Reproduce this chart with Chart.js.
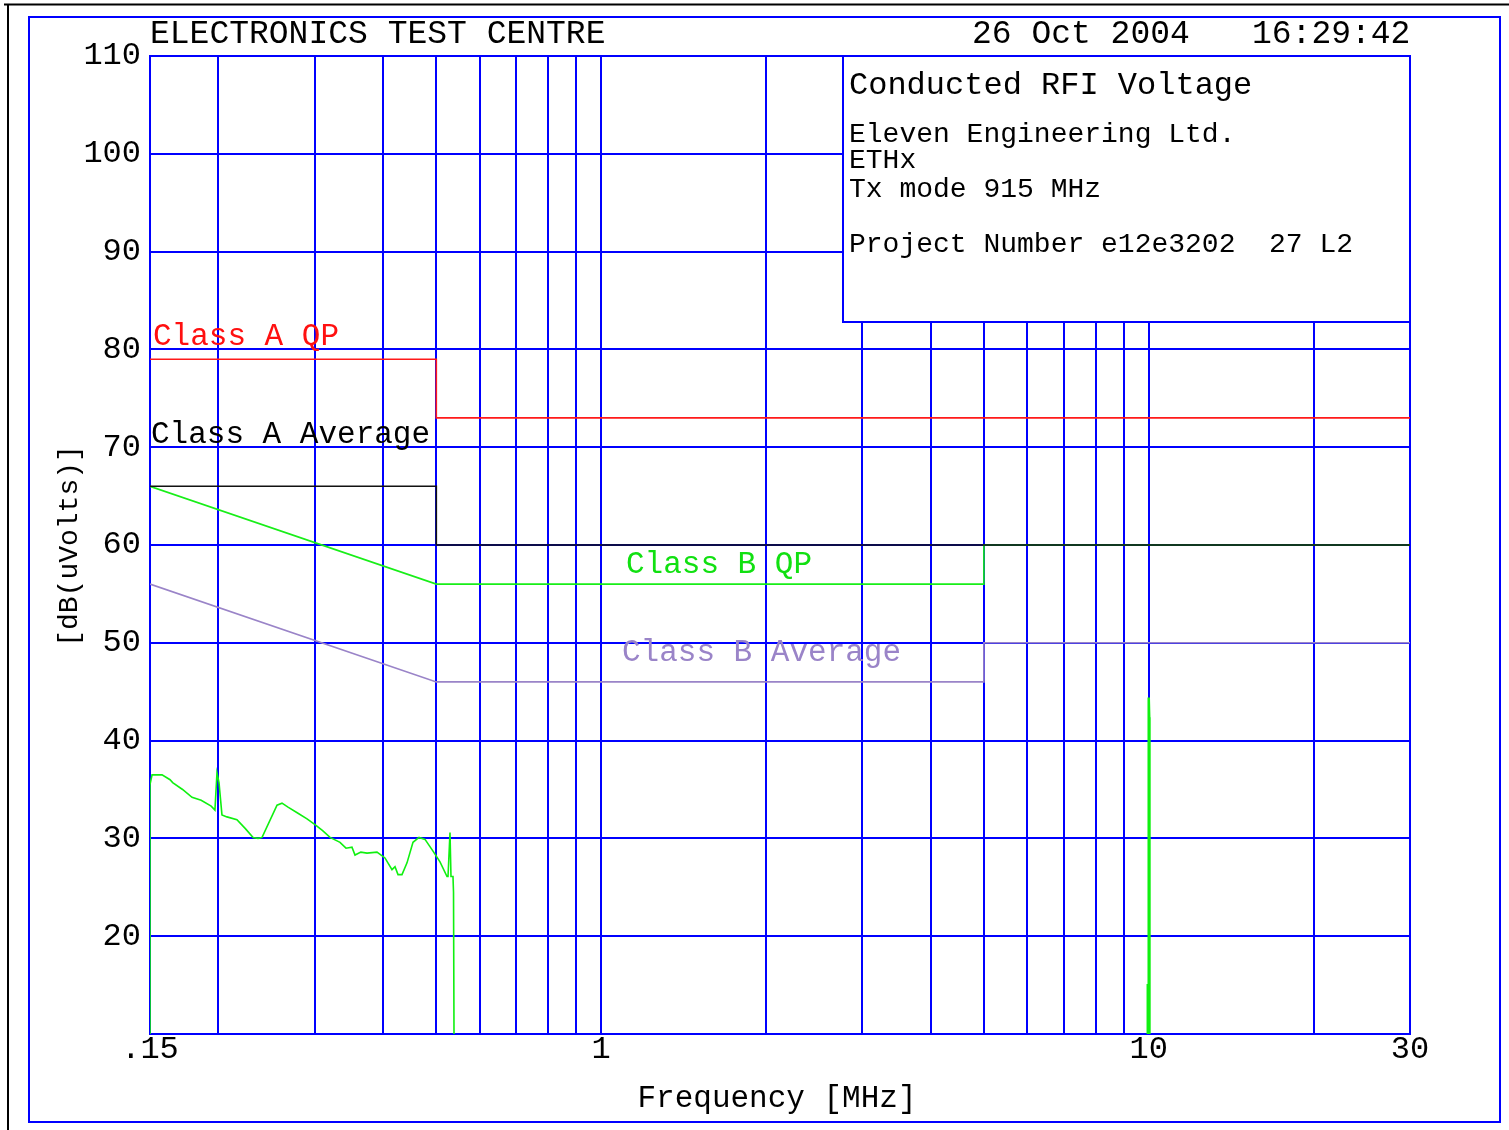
<!DOCTYPE html>
<html>
<head>
<meta charset="utf-8">
<title>Conducted RFI Voltage</title>
<script src="https://cdn.jsdelivr.net/npm/chart.js@4/dist/chart.umd.min.js"></script>
<style>
  html, body { margin: 0; padding: 0; background: #ffffff; }
  canvas { display: block; }
</style>
</head>
<body>
<canvas id="rfi" width="1509" height="1130"></canvas>
<script>
// Frequency grid (MHz) and the labelled ticks
const gridFreqs = [0.15, 0.2, 0.3, 0.4, 0.5, 0.6, 0.7, 0.8, 0.9, 1, 2, 3, 4, 5, 6, 7, 8, 9, 10, 20, 30];
const freqTickLabels = { 0.15: '.15', 1: '1', 10: '10', 30: '30' };
const levelMin = 10;
const levelMax = 110;
const levelStep = 10;

// Limit lines, dB(uV)
const classAQpFreq = [0.15, 0.5, 0.5, 30];
const classAQp     = [79, 79, 73, 73];
const classAAvgFreq = [0.15, 0.5, 0.5, 30];
const classAAvg     = [66, 66, 60, 60];
const classBQpFreq = [0.15, 0.5, 5, 5, 30];
const classBQp     = [66, 56, 56, 60, 60];
const classBAvgFreq = [0.15, 0.5, 5, 5, 30];
const classBAvg     = [56, 46, 46, 50, 50];

// Measured scan, low band (MHz, dB(uV))
const scanFreq = [0.15, 0.15, 0.1513, 0.1578, 0.1632, 0.1650, 0.1720, 0.1790, 0.1860, 0.1940, 0.1971, 0.1988, 0.2005,
  0.2030, 0.2073, 0.2162, 0.2240, 0.2314, 0.2363, 0.2403, 0.2559, 0.2613, 0.2680, 0.2790, 0.2903, 0.3002, 0.3100, 0.3198,
  0.3335, 0.3420, 0.3507, 0.3552, 0.3640, 0.3736, 0.3896, 0.4029, 0.4150, 0.4203, 0.4256, 0.4328, 0.4420, 0.4533,
  0.4649, 0.4768, 0.4931, 0.5078, 0.5230, 0.5252, 0.5296, 0.5318, 0.5363, 0.5375, 0.5386];
const scanLevel = [10, 35.5, 36.5, 36.5, 36.0, 35.7, 35.0, 34.2, 33.9, 33.3, 32.9, 36.7, 35.7,
  32.4, 32.2, 31.9, 31.0, 30.1, 30.0, 30.1, 33.4, 33.6, 33.2, 32.6, 32.0, 31.4, 30.8, 30.1,
  29.6, 29.0, 29.1, 28.3, 28.6, 28.5, 28.6, 28.0, 26.8, 27.1, 26.3, 26.3, 27.5, 29.6,
  30.1, 29.9, 28.7, 27.6, 26.1, 26.1, 30.6, 26.1, 26.1, 24.5, 10];

// Narrow emission near 10 MHz
const spikeFreq  = [9.96, 9.96, 9.98, 10.0, 10.02, 10.03];
const spikeLevel = [10, 15.1, 10, 44.4, 42.4, 10];

const FONT = '"Liberation Mono", "DejaVu Sans Mono", monospace';
const BLUE = '#0000ff';
const pts = (xs, ys) => xs.map((x, i) => ({ x: x, y: ys[i] }));

const lineSet = (label, xs, ys, color, width) => ({
  label: label,
  data: pts(xs, ys),
  borderColor: color,
  backgroundColor: color,
  borderWidth: width,
  pointRadius: 0,
  tension: 0,
  fill: false
});

// Page frame, header box and text annotations
const sheet = {
  id: 'sheet',
  beforeDraw(chart) {
    const ctx = chart.ctx;
    ctx.save();
    ctx.fillStyle = '#ffffff';
    ctx.fillRect(0, 0, chart.width, chart.height);
    ctx.strokeStyle = '#000000';
    ctx.lineWidth = 2;
    ctx.beginPath();
    ctx.moveTo(4, 4.5); ctx.lineTo(1509, 4.5);
    ctx.moveTo(8, 4); ctx.lineTo(8, 1130);
    ctx.stroke();
    ctx.strokeStyle = BLUE;
    ctx.lineWidth = 2;
    ctx.strokeRect(29, 17, 1471, 1105);
    ctx.restore();
  },
  beforeDatasetsDraw(chart) {
    const ctx = chart.ctx;
    const x = chart.scales.x, y = chart.scales.y;
    ctx.save();
    const bx = 843, by = y.top, bw = x.right - 843, bh = 322 - y.top;
    ctx.fillStyle = '#ffffff';
    ctx.fillRect(bx, by, bw, bh);
    ctx.strokeStyle = BLUE;
    ctx.lineWidth = 2;
    ctx.strokeRect(bx, by, bw, bh);
    ctx.restore();
  },
  afterDraw(chart) {
    const ctx = chart.ctx;
    ctx.save();
    ctx.textBaseline = 'alphabetic';
    ctx.textAlign = 'left';
    ctx.fillStyle = '#000000';
    ctx.font = '33px ' + FONT;
    ctx.fillText('ELECTRONICS TEST CENTRE', 150, 43);
    ctx.fillText('26 Oct 2004', 972, 43);
    ctx.fillText('16:29:42', 1252, 43);

    ctx.font = '32px ' + FONT;
    ctx.fillText('Conducted RFI Voltage', 849, 94);
    ctx.font = '28px ' + FONT;
    ctx.fillText('Eleven Engineering Ltd.', 849, 142);
    ctx.fillText('ETHx', 849, 168);
    ctx.fillText('Tx mode 915 MHz', 849, 197);
    ctx.fillText('Project Number e12e3202  27 L2', 849, 252);

    ctx.font = '31px ' + FONT;
    ctx.fillStyle = '#ff1010';
    ctx.fillText('Class A QP', 153, 345);
    ctx.fillStyle = '#000000';
    ctx.fillText('Class A Average', 151, 443);
    ctx.fillStyle = '#11e011';
    ctx.fillText('Class B QP', 626, 573);
    ctx.fillStyle = '#9a84c8';
    ctx.fillText('Class B Average', 622, 661);

    ctx.fillStyle = '#000000';
    ctx.font = '31px ' + FONT;
    ctx.textAlign = 'center';
    ctx.fillText('Frequency [MHz]', 777, 1107);

    ctx.translate(77, 546);
    ctx.rotate(-Math.PI / 2);
    ctx.font = '28px ' + FONT;
    ctx.fillText('[dB(uVolts)]', 0, 0);
    ctx.restore();
  }
};

new Chart(document.getElementById('rfi'), {
  type: 'line',
  data: {
    datasets: [
      lineSet('Class A QP', classAQpFreq, classAQp, '#ff1a1a', 1.6),
      lineSet('Class A Average', classAAvgFreq, classAAvg, '#111111', 1.6),
      lineSet('Class B QP', classBQpFreq, classBQp, '#18ee18', 1.6),
      lineSet('Class B Average', classBAvgFreq, classBAvg, '#9a84c8', 1.6),
      lineSet('Scan', scanFreq, scanLevel, '#10f010', 1.6),
      lineSet('Scan 10 MHz', spikeFreq, spikeLevel, '#10f010', 2.5)
    ]
  },
  options: {
    responsive: false,
    animation: false,
    events: [],
    layout: { padding: { top: 56, right: 99, left: 0, bottom: 0 } },
    plugins: { legend: { display: false }, tooltip: { enabled: false }, title: { display: false } },
    scales: {
      x: {
        type: 'logarithmic',
        position: 'bottom',
        min: gridFreqs[0],
        max: gridFreqs[gridFreqs.length - 1],
        afterBuildTicks: s => { s.ticks = gridFreqs.map(v => ({ value: v })); },
        afterFit: s => { s.height = 96; },
        grid: { color: BLUE, lineWidth: 2, drawTicks: false },
        border: { color: BLUE, width: 2 },
        ticks: {
          autoSkip: false, maxRotation: 0, minRotation: 0, padding: -4,
          color: '#000000', font: { family: FONT, size: 32 },
          callback: v => freqTickLabels[v] || ''
        }
      },
      y: {
        type: 'linear',
        min: levelMin,
        max: levelMax,
        afterFit: s => { s.width = 150; },
        grid: { color: BLUE, lineWidth: 2, drawTicks: false },
        border: { color: BLUE, width: 2 },
        ticks: {
          stepSize: levelStep, padding: 9,
          color: '#000000', font: { family: FONT, size: 32 },
          callback: v => (v === levelMin ? '' : String(v))
        }
      }
    }
  },
  plugins: [sheet]
});
</script>
</body>
</html>
